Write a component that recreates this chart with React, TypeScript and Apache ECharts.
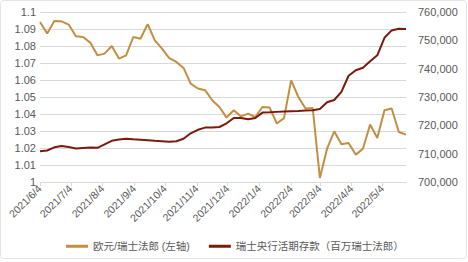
import React, { useEffect, useRef } from "react";
import * as echarts from "echarts";

const weekDates = [
  "2021/6/4", "2021/6/11", "2021/6/18", "2021/6/25", "2021/7/2", "2021/7/9", "2021/7/16", "2021/7/23", "2021/7/30",
  "2021/8/6", "2021/8/13", "2021/8/20", "2021/8/27", "2021/9/3", "2021/9/10", "2021/9/17", "2021/9/24",
  "2021/10/1", "2021/10/8", "2021/10/15", "2021/10/22", "2021/10/29", "2021/11/5", "2021/11/12", "2021/11/19",
  "2021/11/26", "2021/12/3", "2021/12/10", "2021/12/17", "2021/12/24", "2021/12/31",
  "2022/1/7", "2022/1/14", "2022/1/21", "2022/1/28", "2022/2/4", "2022/2/11", "2022/2/18", "2022/2/25",
  "2022/3/4", "2022/3/11", "2022/3/18", "2022/3/25", "2022/4/1", "2022/4/8", "2022/4/15", "2022/4/22",
  "2022/4/29", "2022/5/6", "2022/5/13", "2022/5/20", "2022/5/27",
];

const eurChf = [
  1.0941, 1.0873, 1.0947, 1.0945, 1.0926, 1.0857, 1.0853, 1.082, 1.0745, 1.0755,
  1.08, 1.0726, 1.0745, 1.0853, 1.0843, 1.0929, 1.0833, 1.0784, 1.0729, 1.0706,
  1.0671, 1.0579, 1.055, 1.054, 1.0481, 1.0441, 1.0379, 1.0422, 1.0386, 1.0402,
  1.0382, 1.0441, 1.0438, 1.0344, 1.0376, 1.0598, 1.05, 1.0432, 1.0435, 1.0024,
  1.0196, 1.0298, 1.0222, 1.0229, 1.0161, 1.0196, 1.0338, 1.0259, 1.0422, 1.0432,
  1.0294, 1.0279,
];

const snbDeposits = [
  710840, 711120, 712250, 712710, 712320, 711790, 711970, 712140, 712070, 713310,
  714540, 714970, 715250, 715070, 714900, 714720, 714540, 714370, 714190, 714370,
  715250, 717190, 718430, 719200, 719240, 719410, 720720, 722590, 722590, 722130,
  722590, 724500, 724600, 724750, 724890, 725000, 725100, 725240, 725310, 725730,
  728130, 728950, 731840, 737490, 739430, 740310, 742610, 744720, 750900, 753500,
  754100, 754000,
];

const seriesNames = ["欧元/瑞士法郎 (左轴)", "瑞士央行活期存款（百万瑞士法郎）"];

const axisStart = "2021/6/4";
const axisEnd = "2022/5/27";

function buildDays(start: string, end: string): string[] {
  const p = (s: string) => {
    const [y, m, d] = s.split("/").map(Number);
    return Date.UTC(y, m - 1, d);
  };
  const out: string[] = [];
  for (let t = p(start); t <= p(end); t += 86400000) {
    const dt = new Date(t);
    out.push(`${dt.getUTCFullYear()}/${dt.getUTCMonth() + 1}/${dt.getUTCDate()}`);
  }
  return out;
}

export default function App() {
  const ref = useRef<HTMLDivElement>(null);
  useEffect(() => {
    if (!ref.current) return;
    const chart = echarts.init(ref.current, null, { renderer: "svg" });
    const days = buildDays(axisStart, axisEnd);
    const mapA: Record<string, number> = {};
    const mapB: Record<string, number> = {};
    weekDates.forEach((d, i) => {
      mapA[d] = eurChf[i];
      mapB[d] = snbDeposits[i];
    });
    const dataA = days.map((d) => (d in mapA ? mapA[d] : null));
    const dataB = days.map((d) => (d in mapB ? mapB[d] : null));
    const isMonthTick = (idx: number, val: string) => val.endsWith("/4");
    const font = "Liberation Sans, Arial, Noto Sans CJK SC, sans-serif";
    const gold = "#C48E42";
    const red = "#7A1A0C";
    chart.setOption({
      animation: false,
      textStyle: { fontFamily: font },
      graphic: [
        {
          type: "rect",
          shape: { x: 0.5, y: 0.5, width: 466, height: 258, r: 3 },
          style: { fill: "none", stroke: "#E4E4E4", lineWidth: 1 },
          silent: true,
        },
      ],
      grid: { left: 40, right: 62, top: 12, bottom: 80, containLabel: false },
      legend: {
        left: 61,
        top: 236,
        itemGap: 19,
        itemWidth: 22,
        itemHeight: 3,
        textStyle: { fontSize: 10.5, color: "#595959", fontFamily: font },
        data: [
          { name: seriesNames[0], icon: "rect", itemStyle: { color: gold } },
          { name: seriesNames[1], icon: "rect", itemStyle: { color: red } },
        ],
      },
      xAxis: {
        type: "category",
        data: days,
        boundaryGap: false,
        axisLine: { lineStyle: { color: "#D9D9D9" } },
        axisTick: { show: true, interval: isMonthTick, length: 4, lineStyle: { color: "#D9D9D9" } },
        axisLabel: {
          interval: isMonthTick,
          rotate: 45,
          fontSize: 10.5,
          color: "#595959",
          margin: 5,
        },
        splitLine: { show: false },
      },
      yAxis: [
        {
          type: "value",
          min: 1,
          max: 1.1,
          interval: 0.01,
          axisLine: { show: false },
          axisTick: { show: false },
          axisLabel: { fontSize: 11, color: "#595959", margin: 4 },
          splitLine: { lineStyle: { color: "#D9D9D9", width: 1 } },
        },
        {
          type: "value",
          min: 700000,
          max: 760000,
          interval: 10000,
          position: "right",
          axisLine: { show: false },
          axisTick: { show: false },
          axisLabel: {
            fontSize: 11,
            color: "#595959",
            margin: 12,
            formatter: (v: number) => v.toLocaleString("en-US"),
          },
          splitLine: { show: false },
        },
      ],
      series: [
        {
          name: seriesNames[0],
          type: "line",
          yAxisIndex: 0,
          data: dataA,
          connectNulls: true,
          showSymbol: false,
          symbol: "none",
          lineStyle: { color: gold, width: 2 },
          itemStyle: { color: gold },
          z: 2,
        },
        {
          name: seriesNames[1],
          type: "line",
          yAxisIndex: 1,
          data: dataB,
          connectNulls: true,
          showSymbol: false,
          symbol: "none",
          lineStyle: { color: red, width: 2 },
          itemStyle: { color: red },
          z: 3,
        },
      ],
    });
    return () => chart.dispose();
  }, []);
  return (
    <div
      ref={ref}
      style={{ position: "absolute", left: 0, top: 0, width: 468, height: 262, background: "#fff" }}
    />
  );
}
